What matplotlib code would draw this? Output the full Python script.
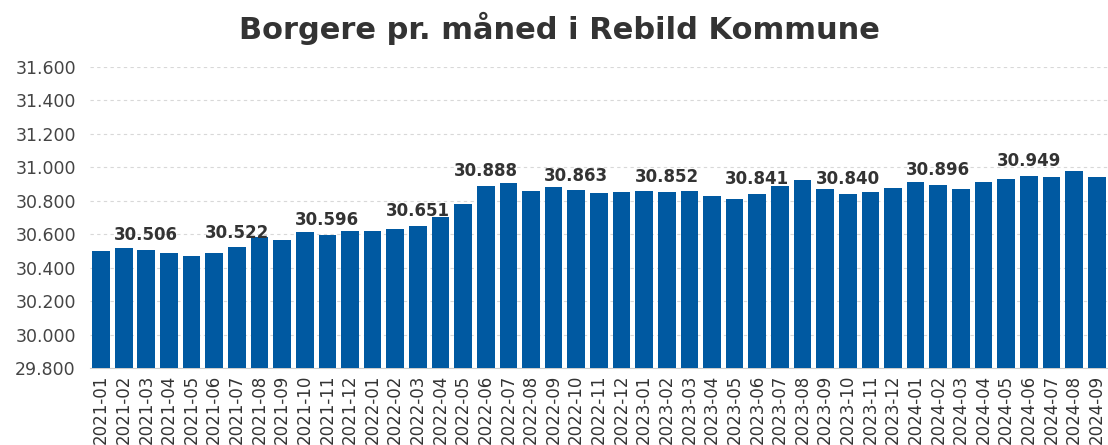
import matplotlib.pyplot as plt
from matplotlib.ticker import FuncFormatter

months = ['2021-01', '2021-02', '2021-03', '2021-04', '2021-05', '2021-06', '2021-07', '2021-08', '2021-09',
          '2021-10', '2021-11', '2021-12', '2022-01', '2022-02', '2022-03', '2022-04', '2022-05', '2022-06',
          '2022-07', '2022-08', '2022-09', '2022-10', '2022-11', '2022-12', '2023-01', '2023-02', '2023-03',
          '2023-04', '2023-05', '2023-06', '2023-07', '2023-08', '2023-09', '2023-10', '2023-11', '2023-12',
          '2024-01', '2024-02', '2024-03', '2024-04', '2024-05', '2024-06', '2024-07', '2024-08', '2024-09']
citizens = [30498, 30515, 30506, 30489, 30471, 30489, 30522, 30585, 30567,
            30613, 30596, 30621, 30621, 30630, 30651, 30700, 30782, 30888,
            30907, 30859, 30879, 30863, 30844, 30854, 30859, 30852, 30859,
            30826, 30808, 30841, 30887, 30923, 30869, 30840, 30854, 30877,
            30913, 30896, 30869, 30913, 30931, 30949, 30939, 30975, 30939]
# months that carry a value label in the original
labelled = ['2021-03', '2021-07', '2021-11', '2022-03', '2022-06', '2022-10',
            '2023-02', '2023-06', '2023-10', '2024-02', '2024-06']

bar_color = '#0059a1'
text_color = '#333333'

def dk(v):
    return f"{v:,.0f}".replace(',', '.')

fig = plt.figure(figsize=(11.08, 4.45), dpi=100)
ax = fig.add_axes([0.081, 0.173, 0.919, 0.677])

x = list(range(len(months)))
ax.bar(x, citizens, width=0.78, color=bar_color, zorder=3)

for m in labelled:
    i = months.index(m)
    ax.annotate(dk(citizens[i]), (i, citizens[i]), xytext=(0, 4), textcoords='offset points',
                ha='center', va='bottom', fontsize=12, fontweight='bold', color=text_color, zorder=4)

ax.set_xlim(-0.5, len(months) - 0.5)
ax.set_ylim(29800, 31600)
ax.set_yticks(range(29800, 31601, 200))
ax.yaxis.set_major_formatter(FuncFormatter(lambda v, p: dk(v)))
ax.set_xticks(x)
ax.set_xticklabels(months, rotation=90, fontsize=12, color=text_color)
ax.tick_params(axis='y', labelsize=12.5, labelcolor='#444444', length=0, pad=10)
ax.tick_params(axis='x', length=0, pad=5)

ax.grid(axis='y', linestyle=(0, (3, 3)), color='#d8d8d8', linewidth=0.8, zorder=0)
for s in ['top', 'right', 'left']:
    ax.spines[s].set_visible(False)
ax.spines['bottom'].set_color('#cccccc')

fig.text(0.505, 0.937, 'Borgere pr. måned i Rebild Kommune', ha='center', va='center',
         fontsize=22, fontweight='bold', color=text_color)

fig.savefig('out.png', dpi=100)
